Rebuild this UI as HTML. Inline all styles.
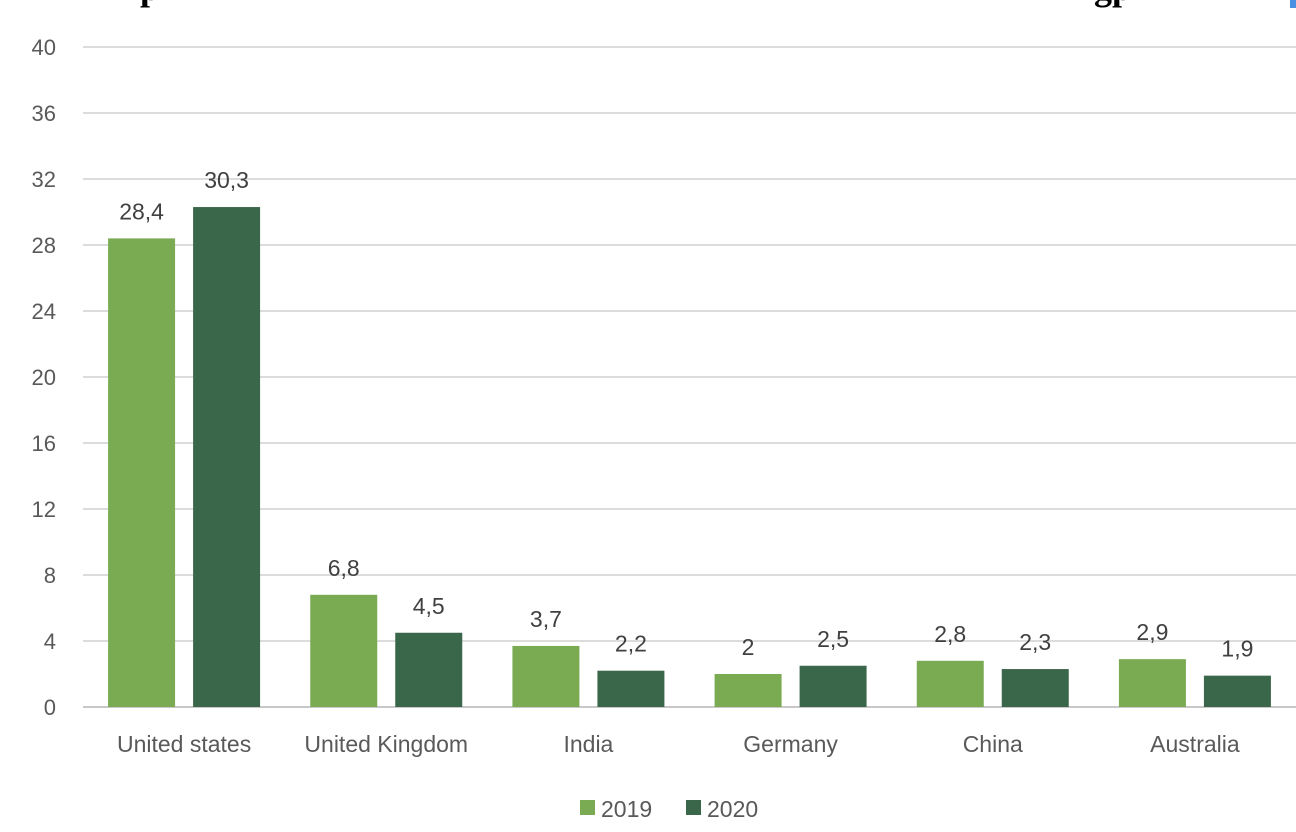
<!DOCTYPE html>
<html><head><meta charset="utf-8"><style>
html,body{margin:0;padding:0;background:#fff;width:1296px;height:832px;overflow:hidden;}
svg text{font-family:"Liberation Sans",sans-serif;}
</style></head><body>
<svg id="chart" width="1296" height="832" xmlns="http://www.w3.org/2000/svg">
<text x="140" y="0" style="font-family:'Liberation Serif',serif;font-weight:bold;font-size:36px" fill="#000">p</text>
<text x="1094" y="0" style="font-family:'Liberation Serif',serif;font-weight:bold;font-size:36px" fill="#000">gp</text>
<rect x="1290" y="0" width="6" height="8" fill="#4a90e2"/>
<g id="grid"></g><g id="bars"></g><g id="labels"></g>
</svg>
<script>
const categories=["United states","United Kingdom","India","Germany","China","Australia"];
const series2019=[28.4,6.8,3.7,2,2.8,2.9];
const series2020=[30.3,4.5,2.2,2.5,2.3,1.9];
const ticks=[0,4,8,12,16,20,24,28,32,36,40];
const seriesNames=["2019","2020"];
const colors=["#7aab52","#3a674a"];
const NS="http://www.w3.org/2000/svg";
const x0=83,x1=1296,yTop=47,yBot=707,maxV=40;
const y=v=>yBot-(yBot-yTop)*v/maxV;
const band=(x1-x0)/categories.length;
const cx=i=>x0+band*(i+0.5);
function mk(tag,attrs,parent,text){const e=document.createElementNS(NS,tag);for(const k in attrs)e.setAttribute(k,attrs[k]);if(text!==undefined)e.textContent=text;parent.appendChild(e);return e;}
const grid=document.getElementById('grid'),bars=document.getElementById('bars'),labels=document.getElementById('labels');
ticks.forEach(t=>{
  const l=mk('line',{x1:x0,x2:x1,y1:y(t),y2:y(t),stroke:t===0?'#c8c8c8':'#dcdcdc','stroke-width':2},grid);
  
  
  const tx=mk('text',{x:56,y:y(t)+8,'text-anchor':'end','font-size':22,fill:'#595959'},grid,String(t));
  
  
});
const bw=67,gap=18;
const fmt=v=>String(v).replace('.',',');
categories.forEach((c,i)=>{
  [series2019,series2020].forEach((s,j)=>{
    const bx=cx(i)-gap/2-bw+j*(bw+gap);
    const r=mk('rect',{x:bx,y:y(s[i]),width:bw,height:yBot-y(s[i]),fill:colors[j]},bars);
    
    
    const t=mk('text',{x:bx+bw/2,y:y(s[i])-19,'text-anchor':'middle','font-size':23,fill:'#404040'},labels,fmt(s[i]));
    
    
  });
  const t=mk('text',{x:cx(i),y:752,'text-anchor':'middle','font-size':23,fill:'#595959'},labels,c);
  
  
});
const lx=[580,686];
seriesNames.forEach((n,j)=>{
  const g=mk('g',{},labels);
  
  
  mk('rect',{x:lx[j],y:800,width:15,height:15,fill:colors[j]},g);
  mk('text',{x:lx[j]+21,y:817,'font-size':23,fill:'#595959'},g,n);
});
</script>
</body></html>
